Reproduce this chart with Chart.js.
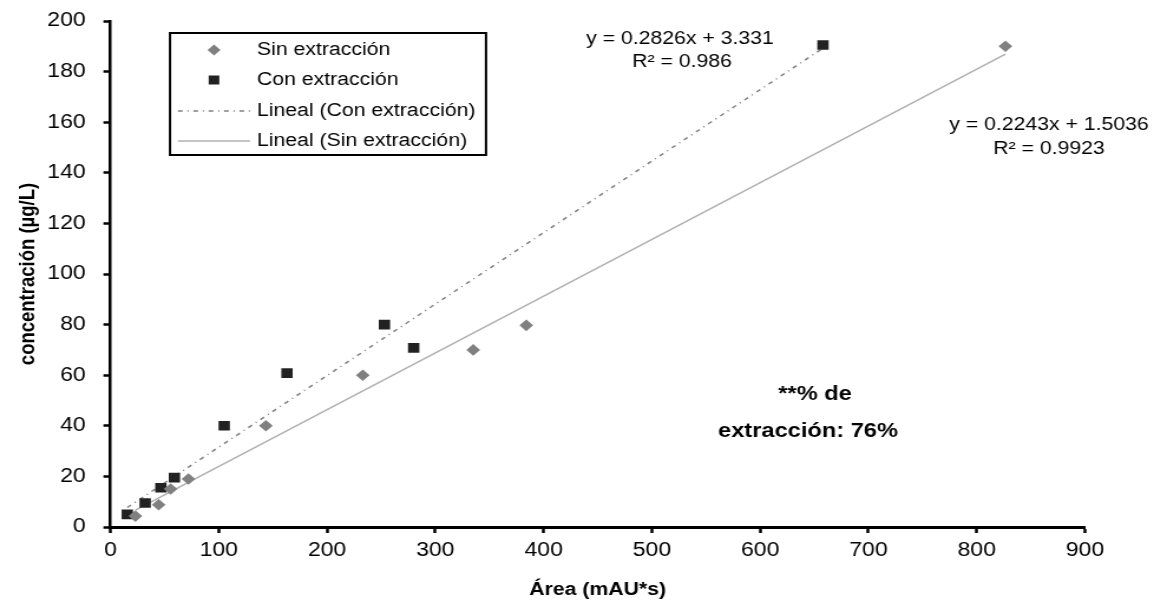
<!DOCTYPE html>
<html><head><meta charset="utf-8">
<script src="https://cdn.jsdelivr.net/npm/chart.js@4.4.1/dist/chart.umd.min.js"></script>
<style>html,body{margin:0;padding:0;background:#fff;overflow:hidden}canvas{display:block}</style>
</head><body>
<canvas id="c" width="978" height="604" style="width:1154px;height:604px"></canvas>
<script>
// ---- data ----
const sinArea = [23, 44.5, 55.5, 72, 143.5, 233, 335, 384, 826.5];
const sinConc = [4.3, 8.8, 15, 19, 40, 60, 70, 79.7, 190];
const conArea = [15.5, 32, 46.5, 59, 105, 163, 253, 280, 658];
const conConc = [5, 9.5, 15.5, 19.5, 40, 60.8, 80, 70.8, 190.5];
const conSlope = 0.2826, conIntercept = 3.331, conR2 = 0.986;
const sinSlope = 0.2243, sinIntercept = 1.5036, sinR2 = 0.9923;
const xTicks = [0, 100, 200, 300, 400, 500, 600, 700, 800, 900];
const yTicks = [0, 20, 40, 60, 80, 100, 120, 140, 160, 180, 200];
const seriesNames = ['Sin extracción', 'Con extracción', 'Lineal (Con extracción)', 'Lineal (Sin extracción)'];
const noteLines = ['**% de', 'extracción: 76%'];

const SX = 1154 / 978;
const X = px => px / SX;
const FONT = '"Liberation Sans", Arial, sans-serif';

const pts = (xs, ys) => xs.map((x, i) => ({x, y: ys[i]}));
const trend = (xs, m, b) => {
  const lo = Math.min(...xs), hi = Math.max(...xs);
  return [{x: lo, y: m * lo + b}, {x: hi, y: m * hi + b}];
};

const overlay = {
  id: 'overlay',
  afterDraw(chart) {
    const ctx = chart.ctx;
    ctx.save();
    // legend box
    ctx.strokeStyle = '#000'; ctx.lineWidth = 2;
    ctx.strokeRect(X(170), 33, X(486) - X(170), 122);
    const mx = X(214), tx = X(257);
    const rows = [50, 80, 111, 141];
    // diamond
    ctx.fillStyle = '#808080';
    ctx.beginPath();
    ctx.moveTo(mx - 5.5, rows[0]); ctx.lineTo(mx, rows[0] - 5.5);
    ctx.lineTo(mx + 5.5, rows[0]); ctx.lineTo(mx, rows[0] + 5.5); ctx.closePath(); ctx.fill();
    // square
    ctx.fillStyle = '#222';
    ctx.fillRect(mx - 4.5, rows[1] - 4.5, 9, 9);
    // dotted
    ctx.strokeStyle = '#808080'; ctx.lineWidth = 1.5; ctx.setLineDash([4, 4, 1, 4]);
    ctx.beginPath(); ctx.moveTo(X(178), rows[2]); ctx.lineTo(X(250), rows[2]); ctx.stroke();
    ctx.setLineDash([]);
    ctx.strokeStyle = '#b0b0b0';
    ctx.beginPath(); ctx.moveTo(X(178), rows[3]); ctx.lineTo(X(250), rows[3]); ctx.stroke();
    ctx.fillStyle = '#000';
    ctx.font = '18px ' + FONT;
    ctx.textBaseline = 'middle'; ctx.textAlign = 'left';
    seriesNames.forEach((n, i) => ctx.fillText(n, tx, rows[i]));
    // equations
    ctx.textAlign = 'center';
    ctx.font = '18px ' + FONT;
    ctx.fillText('y = ' + conSlope + 'x + ' + conIntercept, X(680), 39);
    ctx.fillText('R² = ' + conR2, X(682), 62);
    ctx.fillText('y = ' + sinSlope + 'x + ' + sinIntercept, X(1049), 125);
    ctx.fillText('R² = ' + sinR2, X(1049), 149);
    // note
    ctx.font = 'bold 20px ' + FONT;
    ctx.fillText(noteLines[0], X(815), 394);
    ctx.fillText(noteLines[1], X(808), 431);
    ctx.restore();
  }
};

new Chart(document.getElementById('c'), {
  type: 'scatter',
  data: {
    datasets: [
      {label: seriesNames[0], data: pts(sinArea, sinConc), pointStyle: 'rectRot', pointRadius: 5.8,
       backgroundColor: '#808080', borderColor: '#808080', borderWidth: 0, order: 0},
      {label: seriesNames[1], data: pts(conArea, conConc), pointStyle: 'rect', pointRadius: 6.8,
       backgroundColor: '#222', borderColor: '#222', borderWidth: 0, order: 0},
      {label: seriesNames[2], data: trend(conArea, conSlope, conIntercept), showLine: true, pointRadius: 0,
       borderColor: '#808080', borderWidth: 1.5, borderDash: [4, 4, 1, 4], order: 1},
      {label: seriesNames[3], data: trend(sinArea, sinSlope, sinIntercept), showLine: true, pointRadius: 0,
       borderColor: '#b0b0b0', borderWidth: 1.5, order: 1}
    ]
  },
  options: {
    responsive: false, animation: false, devicePixelRatio: 1,
    layout: {padding: {left: 0, top: 21, right: 978 - X(1085), bottom: 0}},
    plugins: {legend: {display: false}, tooltip: {enabled: false}},
    scales: {
      x: {
        type: 'linear', min: 0, max: 900,
        afterBuildTicks: s => { s.ticks = xTicks.map(v => ({value: v})); },
        afterFit: s => { s.height = 77; s.paddingLeft = 0; s.paddingRight = 0; },
        grid: {drawOnChartArea: false, drawTicks: true, tickLength: 6, tickWidth: 2.5, tickColor: '#000'},
        border: {display: true, color: '#000', width: 3},
        ticks: {color: '#000', padding: 6, maxRotation: 0, font: {family: FONT, size: 19.5}},
        title: {display: true, text: 'Área (mAU*s)', color: '#000', font: {family: FONT, size: 18, weight: 'bold'}, padding: {top: 0, bottom: 3}}
      },
      y: {
        type: 'linear', min: 0, max: 200,
        afterBuildTicks: s => { s.ticks = yTicks.map(v => ({value: v})); },
        afterFit: s => { s.width = X(110.5); s.paddingTop = 0; s.paddingBottom = 0; },
        grid: {drawOnChartArea: false, drawTicks: true, tickLength: 6, tickWidth: 2.5, tickColor: '#000'},
        border: {display: true, color: '#000', width: 2.5},
        ticks: {color: '#000', padding: 15, font: {family: FONT, size: 19.5}},
        title: {display: true, text: 'concentración (µg/L)', color: '#000', font: {family: FONT, size: 18.5, weight: 'bold'}, padding: {top: 13, bottom: 0}}
      }
    }
  },
  plugins: [overlay]
});
</script>
</body></html>
